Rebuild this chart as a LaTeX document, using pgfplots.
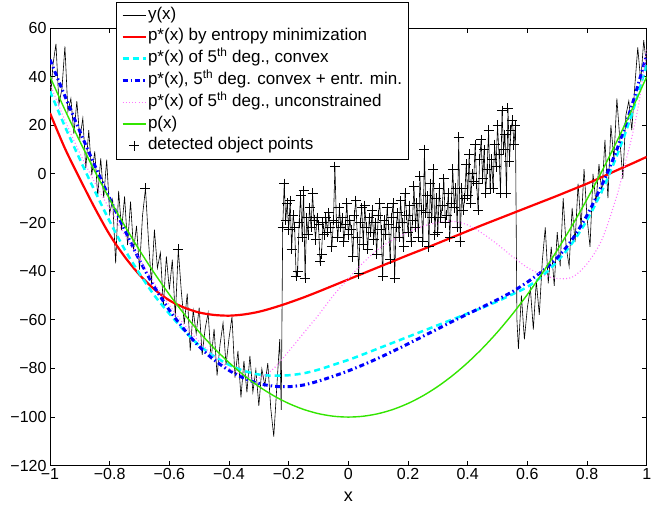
\documentclass[border=0pt]{standalone}
\usepackage{fontspec}
\setmainfont{Liberation Sans}
\usepackage{pgfplots}
\usepackage{pgfplotstable}
\pgfplotsset{compat=1.18}
\definecolor{mgreen}{rgb}{0.2,0.9,0.0}
\definecolor{mpink}{rgb}{1,0.45,1}
\definecolor{mcyan}{rgb}{0,1,1}
\pgfplotsset{
  linelegend/.style={legend image code/.code={\draw[##1] (0pt,0pt) -- (23pt,0pt);}},
  crosslegend/.style={legend image code/.code={\draw[##1] plot coordinates {(11.5pt,0pt)};}},
}

% measured signal y(x); d=1 marks the detected object points
\pgfplotstableread{
x y d
-1.00 28 0
-0.99 45 0
-0.98 53.5 0
-0.97 28.7 0
-0.96 35 0
-0.95 52.4 0
-0.94 25.7 0
-0.93 31 0
-0.92 16.5 0
-0.91 29.9 0
-0.90 14.4 0
-0.89 22.9 0
-0.88 2.4 0
-0.87 18 0
-0.86 -0.5 0
-0.85 9.2 0
-0.84 -9.2 0
-0.83 6.4 0
-0.82 -9.9 0
-0.81 5.9 0
-0.80 -16.4 0
-0.79 -10.6 0
-0.78 -36.8 0
-0.77 -7 0
-0.76 -23.1 0
-0.75 -9.3 0
-0.74 -29.3 0
-0.73 -11.4 0
-0.72 -31.4 0
-0.71 -21.4 0
-0.70 -39.4 0
-0.69 -17.3 0
-0.68 -6 1
-0.67 -27.2 0
-0.66 -45 0
-0.65 -22.9 0
-0.64 -38.7 0
-0.63 -32.4 0
-0.62 -54.2 0
-0.61 -33.9 0
-0.60 -47.6 0
-0.59 -35.3 0
-0.58 -58.9 0
-0.57 -31 1
-0.56 -48.1 0
-0.55 -61.7 0
-0.54 -49.2 0
-0.53 -72.7 0
-0.52 -56.1 0
-0.51 -65.6 0
-0.50 -55 0
-0.49 -74.4 0
-0.48 -63.7 0
-0.47 -57.1 0
-0.46 -76.4 0
-0.45 -63.7 0
-0.44 -82.9 0
-0.43 -70.1 0
-0.42 -61.3 0
-0.41 -78.5 0
-0.40 -67.6 0
-0.39 -58.7 0
-0.38 -83.8 0
-0.37 -72.8 0
-0.36 -91.9 0
-0.35 -76.9 0
-0.34 -89.8 0
-0.33 -74.8 0
-0.32 -89.7 0
-0.31 -80.5 0
-0.30 -95.4 0
-0.29 -80.2 0
-0.28 -87 0
-0.27 -77.8 0
-0.26 -96.5 0
-0.25 -108 0
-0.24 -88 0
-0.23 -68 0
-0.225 -97 0
-0.220 -22 1
-0.215 -4 1
-0.210 -19 1
-0.205 -12 1
-0.200 -23 1
-0.195 -11 1
-0.190 -31 1
-0.185 -17 1
-0.180 -22 1
-0.175 -42 1
-0.170 -40 1
-0.165 -20 1
-0.160 -9 1
-0.155 -26 1
-0.150 -7 1
-0.145 -43 1
-0.140 -18 1
-0.135 -25 1
-0.130 -14 1
-0.125 -22 1
-0.120 -8 1
-0.115 -19 1
-0.110 -27 1
-0.105 -18 1
-0.100 -21 1
-0.095 -36 1
-0.090 -33 1
-0.085 -20 1
-0.080 -25 1
-0.075 -18 1
-0.070 -24 1
-0.065 -16 1
-0.060 -22 1
-0.055 -30 1
-0.050 -19 1
-0.045 3 1
-0.040 -20 1
-0.035 -26 1
-0.030 -14 1
-0.025 -22 1
-0.020 -18 1
-0.015 -28 1
-0.010 -21 1
-0.005 -12 1
0.000 -25 1
0.005 -19 1
0.010 -23 1
0.015 -34 1
0.020 -17 1
0.025 -11 1
0.030 -26 1
0.035 -41 1
0.040 -20 1
0.045 -14 1
0.050 -29 1
0.055 -13 1
0.060 -22 1
0.065 -31 1
0.070 -18 1
0.075 -24 1
0.080 -15 1
0.085 -27 1
0.090 -20 1
0.095 -33 1
0.100 -17 1
0.105 -12 1
0.110 -23 1
0.115 -42 1
0.120 -19 1
0.125 -25 1
0.130 -14 1
0.135 -21 1
0.140 -35 1
0.145 -18 1
0.150 -12 1
0.155 -43 1
0.160 -22 1
0.165 -16 1
0.170 -26 1
0.175 -11 1
0.180 -20 1
0.185 -30 1
0.190 -8 1
0.195 -17 1
0.200 -24 1
0.205 -13 1
0.210 -28 1
0.215 -19 1
0.220 -5 1
0.225 -22 1
0.230 -12 1
0.235 -26 1
0.240 -1 1
0.245 -15 1
0.250 -28 1
0.255 10 1
0.260 -16 1
0.265 -9 1
0.270 -30 1
0.275 -4 1
0.280 -18 1
0.285 2 1
0.290 -25 1
0.295 -10 1
0.300 -24 1
0.305 -6 1
0.310 -18 1
0.315 -13 1
0.320 -2 1
0.325 -20 1
0.330 -17 1
0.335 -8 1
0.340 -26 1
0.345 -12 1
0.350 2 1
0.355 -14 1
0.360 -6 1
0.365 -22 1
0.370 15 1
0.375 -28 1
0.380 -6 1
0.385 -15 1
0.390 -10 1
0.395 4 1
0.400 -9 1
0.405 8 1
0.410 -12 1
0.415 0 1
0.420 -3 1
0.425 12 1
0.430 -4 1
0.435 -15 1
0.440 6 1
0.445 14 1
0.450 -2 1
0.455 10 1
0.460 -8 1
0.465 2 1
0.470 18 1
0.475 -6 1
0.480 6 1
0.485 -6 1
0.490 12 1
0.495 3 1
0.500 20 1
0.505 8 1
0.510 -8 1
0.515 26 1
0.520 10 1
0.525 16 1
0.530 -8 1
0.535 27 1
0.540 5 1
0.545 18 1
0.550 22 1
0.555 12 1
0.560 20 1
0.565 -60 0
0.57 -72 0
0.58 -50 0
0.59 -68 0
0.60 -55 0
0.61 -47 0
0.62 -64 0
0.63 -44 0
0.64 -58 0
0.65 -36 0
0.66 -22 0
0.67 -45 0
0.68 -30 0
0.69 -46 0
0.70 -24 0
0.71 -38 0
0.72 -10 0
0.73 -30 0
0.74 -38 0
0.75 -14 0
0.76 -28 0
0.77 -4 0
0.78 -22 0
0.79 2 0
0.80 -18 0
0.81 -30 0
0.82 0 0
0.83 -12 0
0.84 4 0
0.85 -8 0
0.86 14 0
0.87 -10 0
0.88 20 0
0.89 6 0
0.90 31 0
0.91 14 0
0.92 -2 0
0.93 24 0
0.94 30 0
0.95 18 0
0.96 36 0
0.97 52 0
0.98 38 0
0.99 55 0
1.00 44 0
}\ydata

% fitted curves and true profile
\pgfplotstableread{
x red cyan blue green
-1.00 25 34 47 40
-0.95 10.5 19.5 32 26.35
-0.90 -2 6 17.5 13.4
-0.85 -14 -7 3.5 1.15
-0.80 -25 -19.5 -10 -10.4
-0.75 -34 -31 -23 -21.25
-0.70 -41.5 -41 -35.5 -31.4
-0.65 -47.5 -50 -46.5 -40.85
-0.60 -52 -57.5 -56 -49.6
-0.55 -55 -64.5 -64 -57.65
-0.50 -57 -70.5 -71 -65
-0.45 -58 -75 -76.5 -71.65
-0.40 -58.3 -78.5 -80.8 -77.6
-0.35 -57.8 -81 -84 -82.85
-0.30 -56.7 -82.5 -86.2 -87.4
-0.25 -55 -83 -87.3 -91.25
-0.20 -53 -82.8 -87.5 -94.4
-0.15 -50.8 -82 -86.8 -96.85
-0.10 -48.4 -80.5 -85.2 -98.6
-0.05 -45.9 -78.5 -83.2 -99.65
0.00 -43.4 -76.5 -81 -100
0.05 -40.9 -74.2 -78.5 -99.65
0.10 -38.4 -71.8 -75.8 -98.6
0.15 -35.9 -69.4 -72.9 -96.85
0.20 -33.4 -67 -69.9 -94.4
0.25 -31 -64.6 -66.8 -91.25
0.30 -28.5 -62.2 -63.7 -87.4
0.35 -26 -59.8 -60.6 -82.85
0.40 -23.5 -57.4 -57.6 -77.6
0.45 -21 -55 -54.7 -71.65
0.50 -18.6 -52.4 -51.7 -65
0.55 -16.2 -49.5 -48.4 -57.65
0.60 -13.8 -46.5 -44.5 -49.6
0.65 -11.4 -42 -40 -40.85
0.70 -9 -36 -34.5 -31.4
0.75 -6.5 -28.5 -27 -21.25
0.80 -4 -19 -17 -10.4
0.85 -1.3 -7 -4.5 1.15
0.90 1.5 7.5 10 13.4
0.95 4.2 24.5 28 26.35
1.00 7 45 49 40
}\curves

% unconstrained 5th degree fit
\pgfplotstableread{
x y
-1.00 37
-0.95 22
-0.90 8.5
-0.85 -3.5
-0.80 -14.5
-0.75 -25
-0.70 -35
-0.65 -45
-0.60 -54
-0.55 -62
-0.50 -69
-0.45 -75
-0.40 -80
-0.35 -83
-0.30 -84
-0.25 -80
-0.20 -73
-0.15 -65.5
-0.10 -58
-0.05 -50
0.00 -43
0.05 -36.5
0.10 -31
0.15 -27
0.20 -24
0.25 -21.5
0.30 -20
0.35 -19.5
0.40 -21
0.45 -24.5
0.50 -29
0.55 -34
0.60 -38.5
0.65 -41.5
0.70 -43
0.75 -42.5
0.80 -37
0.85 -27
0.90 -9
0.925 3
0.95 15
0.975 30
1.00 52
}\pinkfit

\begin{document}
\begin{tikzpicture}
\begin{axis}[
  scale only axis, width=596.7pt, height=437.7pt,
  xmin=-1, xmax=1, ymin=-120, ymax=60,
  xtick={-1,-0.8,-0.6,-0.4,-0.2,0,0.2,0.4,0.6,0.8,1},
  xticklabels={−1,−0.8,−0.6,−0.4,−0.2,0,0.2,0.4,0.6,0.8,1},
  ytick={-120,-100,-80,-60,-40,-20,0,20,40,60},
  yticklabels={−120,−100,−80,−60,−40,−20,0,20,40,60},
  tick align=inside, major tick length=5pt,
  tick style={black, line width=0.8pt},
  axis line style={line width=0.8pt},
  tick label style={font=\fontsize{16}{18}\selectfont},
  xticklabel style={yshift=1pt},
  xlabel={x}, label style={font=\fontsize{18}{20}\selectfont},
  xlabel style={yshift=-6pt},
  legend cell align=left,
  legend style={at={(rel axis cs:0.110,1.060)}, anchor=north west,
    font=\fontsize{17}{19}\selectfont, draw=black, line width=0.8pt,
    inner xsep=5pt, inner ysep=4pt, row sep=3.8pt,
    nodes={inner sep=1pt, text height=12pt, text depth=4pt}},
  every axis plot/.append style={linelegend},
]
\addplot[black, line width=0.6pt] table[x=x, y=y] {\ydata};
\addlegendentry{y(x)}
\addplot[red, line width=2.2pt, smooth] table[x=x, y=red] {\curves};
\addlegendentry{p*(x) by entropy minimization}
\addplot[mcyan, line width=2.5pt, dash pattern=on 6pt off 4pt, smooth] table[x=x, y=cyan] {\curves};
\addlegendentry{p*(x) of 5\textsuperscript{th} deg., convex}
\addplot[blue, line width=3pt, dash pattern=on 5pt off 3pt on 1.5pt off 3pt, smooth] table[x=x, y=blue] {\curves};
\addlegendentry{p*(x), 5\textsuperscript{th} deg. convex + entr. min.}
\addplot[mpink, line width=1.1pt, dash pattern=on 1pt off 2.2pt, smooth] table[x=x, y=y] {\pinkfit};
\addlegendentry{p*(x) of 5\textsuperscript{th} deg., unconstrained}
\addplot[mgreen, line width=1.4pt, smooth] table[x=x, y=green] {\curves};
\addlegendentry{p(x)}
\addplot[only marks, mark=+, mark size=5pt, mark options={black, line width=1pt}, crosslegend]
  table[x=x, y expr={\thisrow{d}>0 ? \thisrow{y} : nan}] {\ydata};
\addlegendentry{detected object points}
\coordinate (ll) at (rel axis cs:0,0);
\coordinate (ur) at (rel axis cs:1,1);
\end{axis}
\path (ll) ++(-50pt,-38pt) (ur) ++(23.3pt,28pt);
\end{tikzpicture}
\end{document}
